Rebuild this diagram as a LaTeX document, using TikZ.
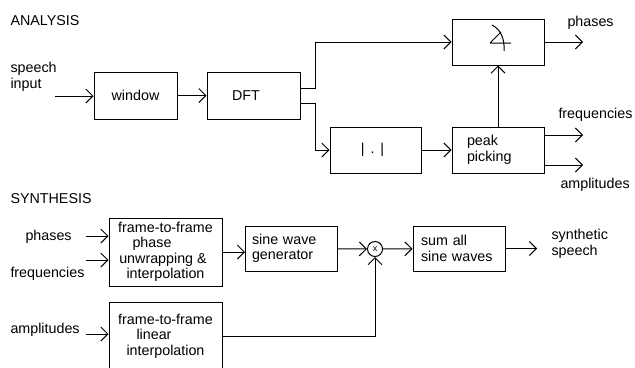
\documentclass[tikz,border=0pt]{standalone}
\usepackage{fontspec}
\setmainfont{Liberation Sans}
\usetikzlibrary{positioning,arrows.meta}

\begin{document}
\begin{tikzpicture}[x=1bp,y=-1bp,line width=1bp,>={Straight Barb[length=7bp,width=14bp]},
  every node/.style={font=\fontsize{14.3bp}{15.5bp}\selectfont},
  blk/.style={draw,inner sep=0pt,align=center,minimum width=92bp,minimum height=46bp},
  lbl/.style={inner sep=0pt,align=left,anchor=west}]
\useasboundingbox (0,0) rectangle (635,367);
% analysis
\node[lbl] (anatitle) at (10,21) {ANALYSIS};
\node[lbl] (spin) at (10,77) {speech\\input};
\coordinate (spsrc) at (55,96);
\node[blk,minimum width=83bp,minimum height=47bp] (win) at (135.5,95.5) {window};
\node[blk,minimum width=93bp,minimum height=47bp] (dft) at (253.5,95.5) {DFT\kern15bp};
\node[blk] (ang) at (498,42) {};
\node[blk,minimum width=91bp] (mag) at (375.5,150) {|\hspace{6bp}.\hspace{6bp}|\kern6bp};
\node[blk,align=left,text width=62bp,inner xsep=15bp] (peak) at (498,150) {peak\\picking};
\coordinate (phout) at (583,42);
\coordinate (frout) at (583,135);
\coordinate (amout) at (583,165);
\node[lbl] (phlbl) at (567,23) {phases};
\node[lbl] (frlbl) at (558,114.5) {frequencies};
\node[lbl] (amlbl) at (560,184.5) {amplitudes};
% angle sign
\begin{scope}[shift={(ang.center)}]
\draw (-8,1) -- (13,1) (-8,1) -- (3,-10);
\draw (-6,-17) .. controls (2,-13) and (7,-4) .. (6,9);
\end{scope}
\draw[->] (spsrc) -- (spsrc -| win.west);
\draw[->] (win) -- (dft);
\draw[->] ([yshift=7bp]dft.east) -- ++(15,0) |- (ang);
\draw[->] ([yshift=-8bp]dft.east) -- ++(15,0) |- (mag);
\draw[->] (mag) -- (peak);
\draw[->] (peak) -- (ang);
\draw[->] (ang) -- (phout);
\draw[->] (peak.east |- frout) -- (frout);
\draw[->] (peak.east |- amout) -- (amout);
% synthesis
\node[lbl] (syntitle) at (10,199) {SYNTHESIS};
\node[lbl] (phin) at (25,236.5) {phases};
\node[lbl] (frin) at (10,274) {frequencies};
\node[lbl] (amin) at (10,330) {amplitudes};
\coordinate (phsrc) at (86,236);
\coordinate (frsrc) at (86,260);
\coordinate (amsrc) at (86,334);
\node[blk,minimum width=113bp,minimum height=68bp] (unwrap) at (165.5,252) {frame-to-frame\\phase\kern27bp\\unwrapping \&\kern5bp\\interpolation};
\node[blk,minimum width=113bp,minimum height=68bp] (lin) at (165.5,336) {frame-to-frame\\linear\kern23bp\\interpolation};
\node[blk,align=left,text width=79bp,inner xsep=6bp,minimum height=45bp] (gen) at (291.5,248.5) {sine wave\\generator};
\node[draw,circle,inner sep=0pt,minimum size=15bp,font=\fontsize{9bp}{9bp}\selectfont] (mult) at (375,249) {x};
\node[blk,align=left,text width=76bp,inner xsep=8bp,minimum height=45bp] (sum) at (459,248.5) {sum all\\sine waves};
\coordinate (synout) at (537,248.5);
\node[lbl] (synlbl) at (551,244) {synthetic\\speech};
\draw[->] (phsrc) -- (phsrc -| unwrap.west);
\draw[->] (frsrc) -- (frsrc -| unwrap.west);
\draw[->] (amsrc) -- (amsrc -| lin.west);
\draw[->] (unwrap.east) -- (unwrap.east -| gen.west);
\draw[->] (gen) -- (mult);
\draw[->] (lin.east) -| (mult);
\draw[->] (mult) -- (sum);
\draw[->] (sum) -- (synout);
\end{tikzpicture}
\end{document}
